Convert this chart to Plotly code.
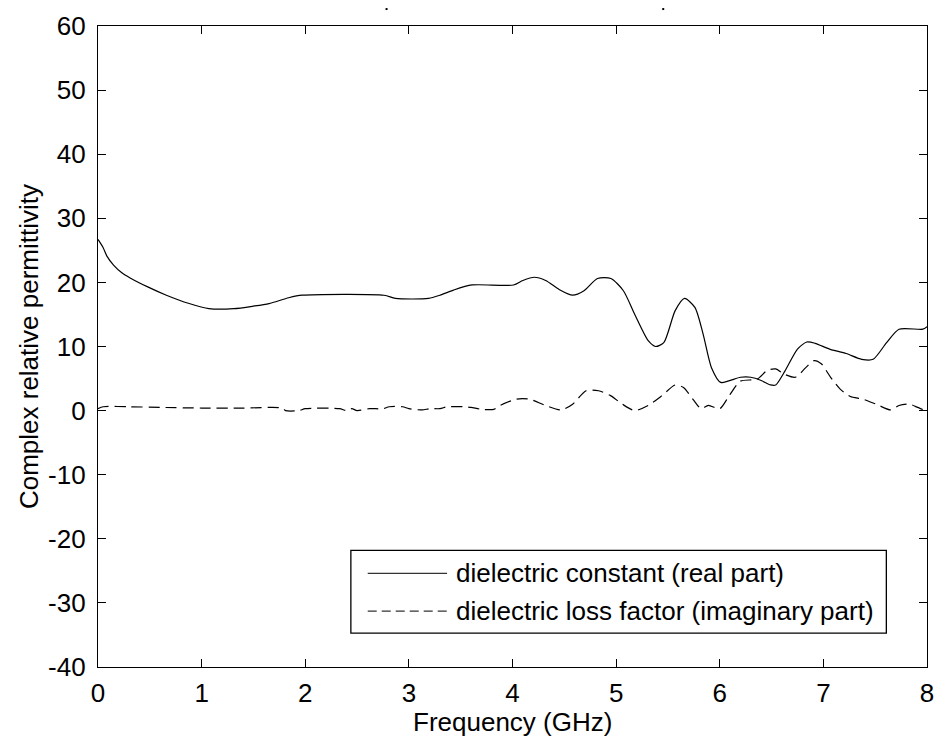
import plotly.graph_objects as go

# ---- data ----
freq_real = [0.00, 0.05, 0.086, 0.15, 0.23, 0.31, 0.48, 0.66, 0.88, 1.07, 1.31, 1.50, 1.65, 1.84, 1.97,
             2.76, 2.87, 3.19, 3.30, 3.43, 3.61, 4.01, 4.10, 4.21, 4.32, 4.45, 4.58, 4.69, 4.82, 4.95,
             5.07, 5.18, 5.31, 5.38, 5.46, 5.57, 5.66, 5.76, 5.84, 5.92, 6.01, 6.20, 6.30, 6.40, 6.49,
             6.54, 6.63, 6.75, 6.84, 6.92, 7.06, 7.22, 7.37, 7.48, 7.61, 7.73, 7.96, 8.00]
eps_real = [26.7, 25.4, 24.1, 22.7, 21.5, 20.7, 19.3, 18.0, 16.7, 15.9, 15.9, 16.3, 16.7, 17.6, 18.0,
            18.0, 17.5, 17.5, 18.0, 18.8, 19.6, 19.6, 20.3, 20.8, 20.3, 18.9, 18.0, 18.7, 20.6, 20.6,
            18.7, 15.0, 10.9, 10.0, 10.6, 15.6, 17.5, 16.1, 11.9, 6.7, 4.4, 5.2, 5.2, 4.7, 4.0,
            4.0, 6.2, 9.6, 10.7, 10.5, 9.6, 8.9, 8.0, 8.0, 10.6, 12.7, 12.7, 13.1]

freq_imag = [0.00, 0.05, 0.30, 0.60, 1.00, 1.40, 1.78, 1.81, 1.94, 2.00, 2.33, 2.40, 2.45, 2.50, 2.62,
             2.75, 2.81, 2.94, 3.00, 3.13, 3.20, 3.30, 3.37, 3.53, 3.60, 3.70, 3.82, 3.88, 4.04, 4.16,
             4.32, 4.47, 4.58, 4.71, 4.83, 4.95, 5.06, 5.18, 5.31, 5.44, 5.57, 5.65, 5.74, 5.82, 5.89,
             6.00, 6.09, 6.20, 6.36, 6.46, 6.54, 6.62, 6.73, 6.83, 6.91, 6.98, 7.07, 7.16, 7.26, 7.38,
             7.51, 7.65, 7.73, 7.83, 7.91, 7.97, 8.00]
eps_imag = [0.3, 0.6, 0.6, 0.5, 0.4, 0.4, 0.4, 0.0, 0.0, 0.3, 0.3, 0.0, 0.3, 0.0, 0.3,
            0.3, 0.6, 0.6, 0.3, 0.1, 0.3, 0.3, 0.6, 0.6, 0.5, 0.2, 0.2, 0.8, 1.8, 1.8,
            0.8, 0.1, 1.0, 3.1, 3.1, 2.3, 1.0, 0.0, 0.8, 2.3, 4.0, 3.6, 1.8, 0.3, 0.8,
            0.3, 2.3, 4.6, 4.9, 6.3, 6.5, 5.7, 5.2, 6.7, 7.8, 7.3, 5.2, 3.4, 2.2, 1.8,
            1.0, 0.1, 0.8, 1.0, 0.5, 0.1, 0.0]

x_ticks = [0, 1, 2, 3, 4, 5, 6, 7, 8]
y_ticks = [-40, -30, -20, -10, 0, 10, 20, 30, 40, 50, 60]

legend_labels = ["dielectric constant (real part)", "dielectric loss factor (imaginary part)"]
x_title = "Frequency (GHz)"
y_title = "Complex relative permittivity"

# ---- figure ----
FONT = "Liberation Sans, Arial, sans-serif"
FS = 26
DASH = "11px,6px"

fig = go.Figure()
fig.add_trace(go.Scatter(x=freq_real, y=eps_real, mode="lines", name=legend_labels[0],
                         line=dict(color="black", width=1.2, shape="spline", smoothing=0.7),
                         showlegend=False))
fig.add_trace(go.Scatter(x=freq_imag, y=eps_imag, mode="lines", name=legend_labels[1],
                         line=dict(color="black", width=1.2, dash=DASH, shape="spline", smoothing=0.7),
                         showlegend=False))

L, R, T, B = 98, 11, 24, 73
W, H = 945, 740
pw, ph = W - L - R, H - T - B

def px(xp):
    return (xp - L) / pw

def py(yp):
    return (H - B - yp) / ph

shapes = []
annotations = []

# manual legend box
lx0, lx1, ly0, ly1 = 353, 893, 550, 633
shapes.append(dict(type="rect", xref="paper", yref="paper", x0=px(lx0), x1=px(lx1),
                   y0=py(ly1), y1=py(ly0), line=dict(color="black", width=1.3),
                   fillcolor="white", layer="above"))
rows = [573, 611]
dashes = ["solid", "9px,5px"]
for lab, ry, d in zip(legend_labels, rows, dashes):
    shapes.append(dict(type="line", xref="paper", yref="paper", x0=px(370), x1=px(450),
                       y0=py(ry), y1=py(ry), line=dict(color="#333", width=1.2, dash=d),
                       layer="above"))
    annotations.append(dict(text=lab, xref="paper", yref="paper", x=px(457), y=py(ry),
                            xanchor="left", yanchor="middle", showarrow=False,
                            font=dict(family=FONT, size=FS, color="black")))

# axis titles
annotations.append(dict(text=x_title, xref="paper", yref="paper", x=0.5, y=py(722),
                        xanchor="center", yanchor="middle", showarrow=False,
                        font=dict(family=FONT, size=FS, color="black")))
annotations.append(dict(text=y_title, xref="paper", yref="paper", x=px(28), y=0.5,
                        xanchor="center", yanchor="middle", showarrow=False, textangle=-90,
                        font=dict(family=FONT, size=FS, color="black")))

# remnant title dots
for dx in [389, 668]:
    shapes.append(dict(type="rect", xref="paper", yref="paper", x0=px(dx - 1), x1=px(dx + 1),
                       y0=py(8), y1=py(6), line=dict(width=0), fillcolor="black"))

axis_common = dict(showgrid=False, zeroline=False, showline=True, linecolor="black",
                   linewidth=1.3, mirror="ticks", ticks="inside", ticklen=8,
                   tickcolor="black", tickwidth=1,
                   tickfont=dict(family=FONT, size=FS, color="black"))

fig.update_layout(
    width=W, height=H,
    margin=dict(l=L, r=R, t=T, b=B, pad=0),
    paper_bgcolor="white", plot_bgcolor="white",
    xaxis=dict(range=[0, 8], tickvals=x_ticks, ticktext=[str(v) for v in x_ticks],
               ticklabelstandoff=3, **axis_common),
    yaxis=dict(range=[-40, 60], tickvals=y_ticks, ticktext=[str(v) for v in y_ticks],
               ticklabelstandoff=6, **axis_common),
    shapes=shapes, annotations=annotations, showlegend=False,
)

fig.write_html("out.html")
